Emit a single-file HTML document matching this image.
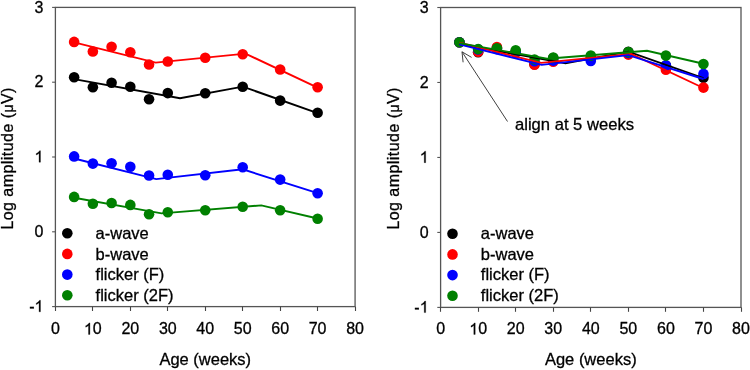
<!DOCTYPE html>
<html><head><meta charset="utf-8"><style>
html,body{margin:0;padding:0;background:#fff;width:750px;height:370px;overflow:hidden}
svg{display:block;will-change:transform}
text{font-family:"Liberation Sans",sans-serif;fill:#000;stroke:#000;stroke-width:0.3px}
</style></head><body>
<svg width="750" height="370" viewBox="0 0 750 370">
<rect x="55.40" y="7.40" width="299.68" height="299.20" fill="none" stroke="#555555" stroke-width="1.3"/>
<line x1="52.10" y1="306.60" x2="55.40" y2="306.60" stroke="#555555" stroke-width="1.1"/>
<text x="29.17" y="311.80" font-size="16">-</text>
<path transform="translate(34.50,311.80) scale(0.00781,-0.00781)" d="M763,0 L583,0 L583,1147 Q518,1085 412.5,1023 Q307,961 223,930 L223,1104 Q374,1175 487,1276 Q600,1377 647,1472 L763,1472 Z" fill="#000" stroke="#000" stroke-width="38.4"/>
<line x1="52.10" y1="231.80" x2="55.40" y2="231.80" stroke="#555555" stroke-width="1.1"/>
<text x="34.50" y="237.00" font-size="16">0</text>
<line x1="52.10" y1="157.00" x2="55.40" y2="157.00" stroke="#555555" stroke-width="1.1"/>
<path transform="translate(34.50,162.20) scale(0.00781,-0.00781)" d="M763,0 L583,0 L583,1147 Q518,1085 412.5,1023 Q307,961 223,930 L223,1104 Q374,1175 487,1276 Q600,1377 647,1472 L763,1472 Z" fill="#000" stroke="#000" stroke-width="38.4"/>
<line x1="52.10" y1="82.20" x2="55.40" y2="82.20" stroke="#555555" stroke-width="1.1"/>
<text x="34.50" y="87.40" font-size="16">2</text>
<line x1="52.10" y1="7.40" x2="55.40" y2="7.40" stroke="#555555" stroke-width="1.1"/>
<text x="34.50" y="12.60" font-size="16">3</text>
<line x1="55.50" y1="306.60" x2="55.50" y2="311.00" stroke="#444" stroke-width="1.1"/>
<text x="50.95" y="334.40" font-size="16">0</text>
<line x1="92.50" y1="306.60" x2="92.50" y2="311.00" stroke="#444" stroke-width="1.1"/>
<path transform="translate(83.96,334.40) scale(0.00781,-0.00781)" d="M763,0 L583,0 L583,1147 Q518,1085 412.5,1023 Q307,961 223,930 L223,1104 Q374,1175 487,1276 Q600,1377 647,1472 L763,1472 Z" fill="#000" stroke="#000" stroke-width="38.4"/>
<text x="92.86" y="334.40" font-size="16">0</text>
<line x1="130.50" y1="306.60" x2="130.50" y2="311.00" stroke="#444" stroke-width="1.1"/>
<text x="121.42" y="334.40" font-size="16">2</text>
<text x="130.32" y="334.40" font-size="16">0</text>
<line x1="167.50" y1="306.60" x2="167.50" y2="311.00" stroke="#444" stroke-width="1.1"/>
<text x="158.88" y="334.40" font-size="16">3</text>
<text x="167.78" y="334.40" font-size="16">0</text>
<line x1="205.50" y1="306.60" x2="205.50" y2="311.00" stroke="#444" stroke-width="1.1"/>
<text x="196.34" y="334.40" font-size="16">4</text>
<text x="205.24" y="334.40" font-size="16">0</text>
<line x1="242.50" y1="306.60" x2="242.50" y2="311.00" stroke="#444" stroke-width="1.1"/>
<text x="233.80" y="334.40" font-size="16">5</text>
<text x="242.70" y="334.40" font-size="16">0</text>
<line x1="280.50" y1="306.60" x2="280.50" y2="311.00" stroke="#444" stroke-width="1.1"/>
<text x="271.26" y="334.40" font-size="16">6</text>
<text x="280.16" y="334.40" font-size="16">0</text>
<line x1="317.50" y1="306.60" x2="317.50" y2="311.00" stroke="#444" stroke-width="1.1"/>
<text x="308.72" y="334.40" font-size="16">7</text>
<text x="317.62" y="334.40" font-size="16">0</text>
<line x1="355.50" y1="306.60" x2="355.50" y2="311.00" stroke="#444" stroke-width="1.1"/>
<text x="346.18" y="334.40" font-size="16">8</text>
<text x="355.08" y="334.40" font-size="16">0</text>
<text x="205.24" y="364.80" text-anchor="middle" font-size="16.5">Age (weeks)</text>
<text transform="translate(12.90,229.60) rotate(-90)" font-size="16" textLength="142" lengthAdjust="spacing">Log amplitude (<tspan font-size="14">&#956;</tspan>V)</text>
<circle cx="67.30" cy="233.20" r="5.3" fill="#000000"/>
<text x="95.60" y="238.80" font-size="16.5">a-wave</text>
<circle cx="67.30" cy="253.90" r="5.3" fill="#ff0000"/>
<text x="95.60" y="259.50" font-size="16.5">b-wave</text>
<circle cx="67.30" cy="274.60" r="5.3" fill="#0000ff"/>
<text x="95.60" y="280.20" font-size="16.5">flicker (F)</text>
<circle cx="67.30" cy="295.30" r="5.3" fill="#008000"/>
<text x="95.60" y="300.90" font-size="16.5">flicker (2F)</text>
<polyline points="74.13,79.10 179.99,98.20 242.81,86.65 317.62,113.20" fill="none" stroke="#000000" stroke-width="1.9" stroke-linejoin="miter"/>
<circle cx="74.13" cy="77.20" r="5.3" fill="#000000"/>
<circle cx="92.86" cy="87.30" r="5.3" fill="#000000"/>
<circle cx="111.59" cy="82.70" r="5.3" fill="#000000"/>
<circle cx="130.32" cy="86.70" r="5.3" fill="#000000"/>
<circle cx="149.05" cy="99.30" r="5.3" fill="#000000"/>
<circle cx="167.78" cy="93.10" r="5.3" fill="#000000"/>
<circle cx="205.24" cy="93.30" r="5.3" fill="#000000"/>
<circle cx="242.70" cy="86.80" r="5.3" fill="#000000"/>
<circle cx="280.16" cy="100.60" r="5.3" fill="#000000"/>
<circle cx="317.62" cy="112.80" r="5.3" fill="#000000"/>
<polyline points="74.13,42.40 155.72,62.60 245.51,53.65 317.62,87.70" fill="none" stroke="#ff0000" stroke-width="1.9" stroke-linejoin="miter"/>
<circle cx="74.13" cy="41.90" r="5.3" fill="#ff0000"/>
<circle cx="92.86" cy="51.50" r="5.3" fill="#ff0000"/>
<circle cx="111.59" cy="46.80" r="5.3" fill="#ff0000"/>
<circle cx="130.32" cy="52.20" r="5.3" fill="#ff0000"/>
<circle cx="149.05" cy="64.50" r="5.3" fill="#ff0000"/>
<circle cx="167.78" cy="61.50" r="5.3" fill="#ff0000"/>
<circle cx="205.24" cy="57.80" r="5.3" fill="#ff0000"/>
<circle cx="242.70" cy="54.30" r="5.3" fill="#ff0000"/>
<circle cx="280.16" cy="69.50" r="5.3" fill="#ff0000"/>
<circle cx="317.62" cy="87.30" r="5.3" fill="#ff0000"/>
<polyline points="74.13,158.50 156.20,179.10 242.70,169.30 317.62,193.20" fill="none" stroke="#0000ff" stroke-width="1.9" stroke-linejoin="miter"/>
<circle cx="74.13" cy="156.40" r="5.3" fill="#0000ff"/>
<circle cx="92.86" cy="163.60" r="5.3" fill="#0000ff"/>
<circle cx="111.59" cy="163.30" r="5.3" fill="#0000ff"/>
<circle cx="130.32" cy="166.80" r="5.3" fill="#0000ff"/>
<circle cx="149.05" cy="175.50" r="5.3" fill="#0000ff"/>
<circle cx="167.78" cy="174.80" r="5.3" fill="#0000ff"/>
<circle cx="205.24" cy="175.20" r="5.3" fill="#0000ff"/>
<circle cx="242.70" cy="167.20" r="5.3" fill="#0000ff"/>
<circle cx="280.16" cy="179.60" r="5.3" fill="#0000ff"/>
<circle cx="317.62" cy="193.20" r="5.3" fill="#0000ff"/>
<polyline points="74.13,197.80 161.60,213.40 261.32,205.40 317.62,218.50" fill="none" stroke="#008000" stroke-width="1.9" stroke-linejoin="miter"/>
<circle cx="74.13" cy="196.90" r="5.3" fill="#008000"/>
<circle cx="92.86" cy="203.80" r="5.3" fill="#008000"/>
<circle cx="111.59" cy="203.00" r="5.3" fill="#008000"/>
<circle cx="130.32" cy="204.90" r="5.3" fill="#008000"/>
<circle cx="149.05" cy="214.20" r="5.3" fill="#008000"/>
<circle cx="167.78" cy="212.30" r="5.3" fill="#008000"/>
<circle cx="205.24" cy="210.30" r="5.3" fill="#008000"/>
<circle cx="242.70" cy="206.80" r="5.3" fill="#008000"/>
<circle cx="280.16" cy="210.30" r="5.3" fill="#008000"/>
<circle cx="317.62" cy="218.70" r="5.3" fill="#008000"/>
<rect x="440.60" y="7.50" width="300.40" height="299.90" fill="none" stroke="#555555" stroke-width="1.3"/>
<line x1="437.30" y1="307.40" x2="440.60" y2="307.40" stroke="#555555" stroke-width="1.1"/>
<text x="414.37" y="312.60" font-size="16">-</text>
<path transform="translate(419.70,312.60) scale(0.00781,-0.00781)" d="M763,0 L583,0 L583,1147 Q518,1085 412.5,1023 Q307,961 223,930 L223,1104 Q374,1175 487,1276 Q600,1377 647,1472 L763,1472 Z" fill="#000" stroke="#000" stroke-width="38.4"/>
<line x1="437.30" y1="232.42" x2="440.60" y2="232.42" stroke="#555555" stroke-width="1.1"/>
<text x="419.70" y="237.62" font-size="16">0</text>
<line x1="437.30" y1="157.45" x2="440.60" y2="157.45" stroke="#555555" stroke-width="1.1"/>
<path transform="translate(419.70,162.65) scale(0.00781,-0.00781)" d="M763,0 L583,0 L583,1147 Q518,1085 412.5,1023 Q307,961 223,930 L223,1104 Q374,1175 487,1276 Q600,1377 647,1472 L763,1472 Z" fill="#000" stroke="#000" stroke-width="38.4"/>
<line x1="437.30" y1="82.47" x2="440.60" y2="82.47" stroke="#555555" stroke-width="1.1"/>
<text x="419.70" y="87.67" font-size="16">2</text>
<line x1="437.30" y1="7.50" x2="440.60" y2="7.50" stroke="#555555" stroke-width="1.1"/>
<text x="419.70" y="12.70" font-size="16">3</text>
<line x1="440.50" y1="307.40" x2="440.50" y2="311.80" stroke="#444" stroke-width="1.1"/>
<text x="436.15" y="334.40" font-size="16">0</text>
<line x1="478.50" y1="307.40" x2="478.50" y2="311.80" stroke="#444" stroke-width="1.1"/>
<path transform="translate(469.25,334.40) scale(0.00781,-0.00781)" d="M763,0 L583,0 L583,1147 Q518,1085 412.5,1023 Q307,961 223,930 L223,1104 Q374,1175 487,1276 Q600,1377 647,1472 L763,1472 Z" fill="#000" stroke="#000" stroke-width="38.4"/>
<text x="478.15" y="334.40" font-size="16">0</text>
<line x1="515.50" y1="307.40" x2="515.50" y2="311.80" stroke="#444" stroke-width="1.1"/>
<text x="506.80" y="334.40" font-size="16">2</text>
<text x="515.70" y="334.40" font-size="16">0</text>
<line x1="553.50" y1="307.40" x2="553.50" y2="311.80" stroke="#444" stroke-width="1.1"/>
<text x="544.35" y="334.40" font-size="16">3</text>
<text x="553.25" y="334.40" font-size="16">0</text>
<line x1="590.50" y1="307.40" x2="590.50" y2="311.80" stroke="#444" stroke-width="1.1"/>
<text x="581.90" y="334.40" font-size="16">4</text>
<text x="590.80" y="334.40" font-size="16">0</text>
<line x1="628.50" y1="307.40" x2="628.50" y2="311.80" stroke="#444" stroke-width="1.1"/>
<text x="619.45" y="334.40" font-size="16">5</text>
<text x="628.35" y="334.40" font-size="16">0</text>
<line x1="665.50" y1="307.40" x2="665.50" y2="311.80" stroke="#444" stroke-width="1.1"/>
<text x="657.00" y="334.40" font-size="16">6</text>
<text x="665.90" y="334.40" font-size="16">0</text>
<line x1="703.50" y1="307.40" x2="703.50" y2="311.80" stroke="#444" stroke-width="1.1"/>
<text x="694.55" y="334.40" font-size="16">7</text>
<text x="703.45" y="334.40" font-size="16">0</text>
<line x1="741.50" y1="307.40" x2="741.50" y2="311.80" stroke="#444" stroke-width="1.1"/>
<text x="732.10" y="334.40" font-size="16">8</text>
<text x="741.00" y="334.40" font-size="16">0</text>
<text x="590.80" y="364.80" text-anchor="middle" font-size="16.5">Age (weeks)</text>
<text transform="translate(399.00,229.60) rotate(-90)" font-size="16" textLength="142" lengthAdjust="spacing">Log amplitude (<tspan font-size="14">&#956;</tspan>V)</text>
<circle cx="452.50" cy="233.70" r="5.3" fill="#000000"/>
<text x="480.80" y="238.80" font-size="16.5">a-wave</text>
<circle cx="452.50" cy="254.40" r="5.3" fill="#ff0000"/>
<text x="480.80" y="259.50" font-size="16.5">b-wave</text>
<circle cx="452.50" cy="275.10" r="5.3" fill="#0000ff"/>
<text x="480.80" y="280.20" font-size="16.5">flicker (F)</text>
<circle cx="452.50" cy="295.80" r="5.3" fill="#008000"/>
<text x="480.80" y="300.90" font-size="16.5">flicker (2F)</text>
<circle cx="459.38" cy="42.20" r="5.3" fill="#000000"/>
<circle cx="478.15" cy="52.30" r="5.3" fill="#000000"/>
<circle cx="496.93" cy="47.70" r="5.3" fill="#000000"/>
<circle cx="515.70" cy="51.70" r="5.3" fill="#000000"/>
<circle cx="534.48" cy="64.30" r="5.3" fill="#000000"/>
<circle cx="553.25" cy="58.10" r="5.3" fill="#000000"/>
<circle cx="590.80" cy="58.30" r="5.3" fill="#000000"/>
<circle cx="628.35" cy="51.80" r="5.3" fill="#000000"/>
<circle cx="665.90" cy="65.60" r="5.3" fill="#000000"/>
<circle cx="703.45" cy="77.80" r="5.3" fill="#000000"/>
<circle cx="459.38" cy="42.20" r="5.3" fill="#ff0000"/>
<circle cx="478.15" cy="51.80" r="5.3" fill="#ff0000"/>
<circle cx="496.93" cy="47.10" r="5.3" fill="#ff0000"/>
<circle cx="515.70" cy="52.50" r="5.3" fill="#ff0000"/>
<circle cx="534.48" cy="64.80" r="5.3" fill="#ff0000"/>
<circle cx="553.25" cy="61.80" r="5.3" fill="#ff0000"/>
<circle cx="590.80" cy="58.10" r="5.3" fill="#ff0000"/>
<circle cx="628.35" cy="54.60" r="5.3" fill="#ff0000"/>
<circle cx="665.90" cy="69.80" r="5.3" fill="#ff0000"/>
<circle cx="703.45" cy="87.60" r="5.3" fill="#ff0000"/>
<circle cx="459.38" cy="42.20" r="5.3" fill="#0000ff"/>
<circle cx="478.15" cy="49.40" r="5.3" fill="#0000ff"/>
<circle cx="496.93" cy="49.10" r="5.3" fill="#0000ff"/>
<circle cx="515.70" cy="52.60" r="5.3" fill="#0000ff"/>
<circle cx="534.48" cy="61.30" r="5.3" fill="#0000ff"/>
<circle cx="553.25" cy="60.60" r="5.3" fill="#0000ff"/>
<circle cx="590.80" cy="61.00" r="5.3" fill="#0000ff"/>
<circle cx="628.35" cy="53.00" r="5.3" fill="#0000ff"/>
<circle cx="665.90" cy="65.40" r="5.3" fill="#0000ff"/>
<circle cx="703.45" cy="73.90" r="5.3" fill="#0000ff"/>
<circle cx="459.38" cy="42.20" r="5.3" fill="#008000"/>
<circle cx="478.15" cy="49.10" r="5.3" fill="#008000"/>
<circle cx="496.93" cy="48.30" r="5.3" fill="#008000"/>
<circle cx="515.70" cy="50.20" r="5.3" fill="#008000"/>
<circle cx="534.48" cy="59.50" r="5.3" fill="#008000"/>
<circle cx="553.25" cy="57.60" r="5.3" fill="#008000"/>
<circle cx="590.80" cy="55.60" r="5.3" fill="#008000"/>
<circle cx="628.35" cy="52.10" r="5.3" fill="#008000"/>
<circle cx="665.90" cy="55.60" r="5.3" fill="#008000"/>
<circle cx="703.45" cy="64.00" r="5.3" fill="#008000"/>
<polyline points="459.38,44.10 565.49,63.20 628.46,51.65 703.45,78.20" fill="none" stroke="#000000" stroke-width="1.9"/>
<polyline points="459.38,42.70 541.16,62.90 631.17,53.95 703.45,88.00" fill="none" stroke="#ff0000" stroke-width="1.9"/>
<polyline points="459.38,44.30 541.65,64.90 628.35,55.10 703.45,79.00" fill="none" stroke="#0000ff" stroke-width="1.9"/>
<polyline points="459.38,43.10 547.05,58.70 647.01,50.70 703.45,63.80" fill="none" stroke="#008000" stroke-width="1.9"/>
<line x1="507.5" y1="121.5" x2="462" y2="51.8" stroke="#404040" stroke-width="1"/>
<polyline points="471.6,57.4 462,51.8 463.1,62.3" fill="none" stroke="#404040" stroke-width="1"/>
<text x="515.0" y="130.0" font-size="16.6">align at 5 weeks</text>
</svg></body></html>
